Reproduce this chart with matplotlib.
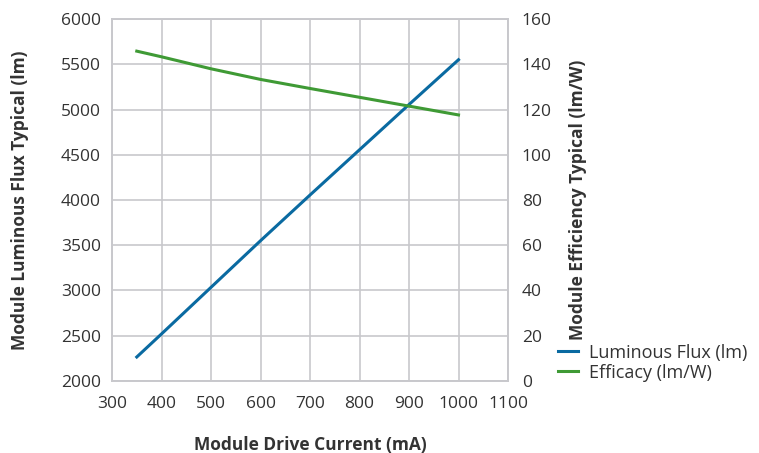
import matplotlib
matplotlib.use("Agg")
import matplotlib.pyplot as plt

current = [350, 400, 500, 600, 700, 800, 900, 1000]
flux = [2265, 2520, 3035, 3550, 4055, 4555, 5055, 5550]
efficacy = [145.8, 143.3, 138.0, 133.3, 129.3, 125.4, 121.5, 117.6]

x_ticks = [300, 400, 500, 600, 700, 800, 900, 1000, 1100]
left_ticks = [2000, 2500, 3000, 3500, 4000, 4500, 5000, 5500, 6000]
right_ticks = [0, 20, 40, 60, 80, 100, 120, 140, 160]

plt.rcParams['font.family'] = ['Open Sans', 'DejaVu Sans']

fig = plt.figure(figsize=(7.59, 4.53), dpi=100)
ax = fig.add_axes([0.1476, 0.159, 0.5217, 0.799])
ax2 = ax.twinx()

grid_c = '#c8c8cc'
text_c = '#333333'

l1, = ax.plot(current, flux, color='#0a6aa1', lw=2.2, label='Luminous Flux (lm)')
l2, = ax2.plot(current, efficacy, color='#3f9a35', lw=2.2, label='Efficacy (lm/W)')

ax.set_xlim(300, 1100)
ax.set_ylim(2000, 6000)
ax2.set_ylim(0, 160)
ax.set_xticks(x_ticks)
ax.set_yticks(left_ticks)
ax2.set_yticks(right_ticks)

ax.grid(True, color=grid_c, lw=1.2)
ax.set_axisbelow(True)
for a in (ax, ax2):
    for s in a.spines.values():
        s.set_color(grid_c)
        s.set_linewidth(1.2)
    a.tick_params(length=0, labelsize=12.5, colors=text_c)
ax.tick_params(axis='x', pad=11)
ax.tick_params(axis='y', pad=8)
ax2.tick_params(axis='y', pad=10)

ax.set_xlabel('Module Drive Current (mA)', fontsize=12.5, fontweight='bold', color=text_c, labelpad=17)
ax.set_ylabel('Module Luminous Flux Typical (lm)', fontsize=12.5, fontweight='bold', color=text_c, labelpad=23)
ax2.set_ylabel('Module Efficiency Typical (lm/W)', fontsize=12.5, fontweight='bold', color=text_c, labelpad=12)

leg = fig.legend(handles=[l1, l2], loc='upper left', bbox_to_anchor=(0.726, 0.257),
                 frameon=False, fontsize=13, handlelength=1.1, handletextpad=0.6,
                 labelspacing=0.1, borderaxespad=0)
for t in leg.get_texts():
    t.set_color(text_c)

fig.savefig('out.png', dpi=100)
